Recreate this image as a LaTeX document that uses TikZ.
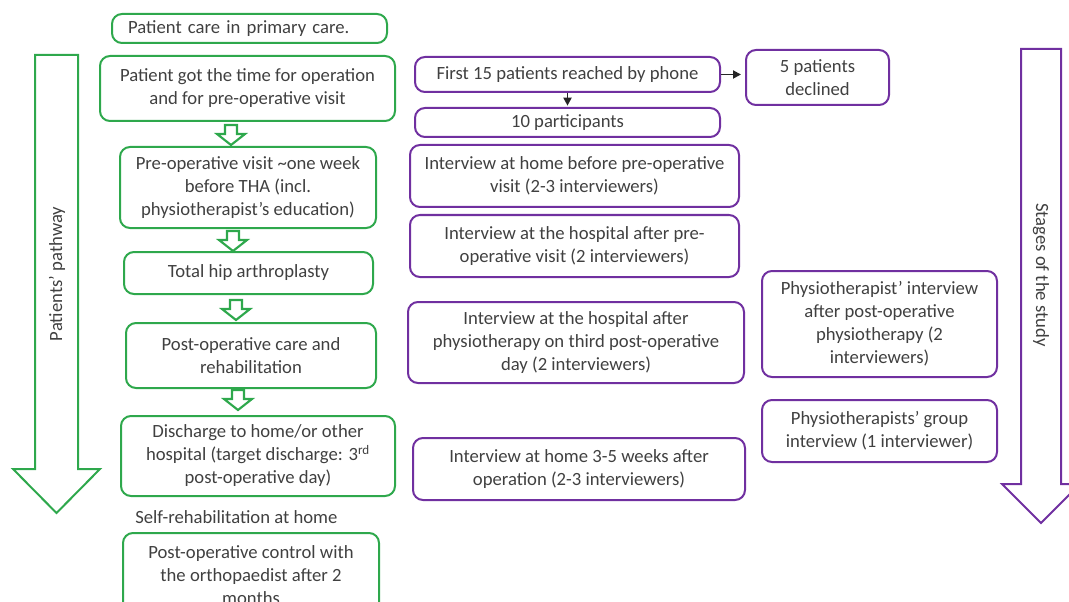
\documentclass[tikz,border=0pt]{standalone}
\usepackage{fontspec}
\setmainfont{Carlito}
\usetikzlibrary{arrows.meta}

\definecolor{pathgreen}{RGB}{46,168,76}
\definecolor{studypurple}{RGB}{112,48,160}
\definecolor{textgrey}{RGB}{64,64,64}

\begin{document}
\begin{tikzpicture}[
                x=0.75pt, y=-0.75pt,
                every node/.style={
                        text=textgrey,
                        align=center,
                        inner sep=0pt,
                        font=\fontsize{14}{17.25}\selectfont
                    },
                boxsize/.style 2 args={minimum width=#1*0.75pt, minimum height=#2*0.75pt},
                green box/.style={draw=pathgreen, line width=1.5pt, rounded corners=7.5pt},
                purple box/.style={draw=studypurple, line width=1.5pt, rounded corners=7.5pt},
                big arrow/.style={line width=1.5pt, line join=miter},
                hollow arrow/.pic={
                        \draw[pathgreen, line width=1.6pt, line join=miter]
                            (-6,0) -- (6,0) -- (6,9) -- (14,9) -- (0,20) -- (-14,9) -- (-6,9) -- cycle;
                    },
                phone arrow/.style={-{Triangle[length=6pt,width=6pt]}, line width=1.4pt, black!85}
            ]

            \clip (0,0) rectangle (1069,602);

            % Patients' pathway
            \draw[big arrow, pathgreen]
                (35,55) -- (78,55) -- (78,469) -- (100,469) -- (56.5,513) -- (13,469) -- (35,469) -- cycle;
            \node[rotate=90] (pathlabel) at (57,274) {Patients’ pathway};

            \node[green box, boxsize={275}{29}, text width=182pt, align=left] (primary) at (249.5,28.5)
                {Patient care in primary care.};
            \node[green box, boxsize={295}{65}] (gottime) at (247.5,88.5)
                {Patient got the time for operation\\and for pre-operative visit};
            \node[green box, boxsize={256}{81}] (previsit) at (248,187.5)
                {Pre-operative visit \textasciitilde one week\\before THA (incl.\\physiotherapist’s education)};
            \node[green box, boxsize={249}{42}] (tha) at (248.5,273)
                {Total hip arthroplasty};
            \node[green box, boxsize={250}{65}] (postcare) at (251,355.5)
                {Post-operative care and\\rehabilitation};
            \node[green box, boxsize={274}{80}] (discharge) at (258,456)
                {Discharge to home/or other\\hospital (target discharge: 3\textsuperscript{rd}\\post-operative day)};
            \node[anchor=west] (selfrehab) at (135,517) {Self-rehabilitation at home};
            \node[green box, boxsize={256}{84}] (control) at (251,575)
                {Post-operative control with\\the orthopaedist after 2\\months};

            \pic at (231,125) {hollow arrow};
            \pic at (233,231) {hollow arrow};
            \pic at (236,300) {hollow arrow};
            \pic at (238,390) {hollow arrow};

            % Stages of the study
            \draw[big arrow, studypurple]
                (1021,49) -- (1061,49) -- (1061,484) -- (1080,484) -- (1041,523) -- (1002,484) -- (1021,484) -- cycle;
            \node[rotate=-90] (studylabel) at (1041,275) {Stages of the study};

            \node[purple box, boxsize={305}{35}] (phone) at (567.5,74.5)
                {First 15 patients reached by phone};
            \node[purple box, boxsize={143}{55}] (declined) at (817.5,77.5)
                {5 patients\\declined};
            \node[purple box, boxsize={305}{29}] (participants) at (567.5,122.5)
                {10 participants};
            \node[purple box, boxsize={329}{62}] (homeint) at (574.5,176)
                {Interview at home before pre-operative\\visit (2-3 interviewers)};
            \node[purple box, boxsize={329}{62}] (hospint) at (574.5,246)
                {Interview at the hospital after pre-\\operative visit (2 interviewers)};
            \node[purple box, boxsize={336}{81}] (thirdday) at (576,342.5)
                {Interview at the hospital after\\physiotherapy on third post-operative\\day (2 interviewers)};
            \node[purple box, boxsize={332}{62}] (weeksint) at (579,469)
                {Interview at home 3-5 weeks after\\operation (2-3 interviewers)};
            \node[purple box, boxsize={235}{106}] (physioint) at (879.5,324)
                {Physiotherapist’ interview\\after post-operative\\physiotherapy (2\\interviewers)};
            \node[purple box, boxsize={235}{62}] (groupint) at (879.5,431)
                {Physiotherapists’ group\\interview (1 interviewer)};

            \draw[phone arrow, shorten >=3pt] (phone.east) -- (phone.east -| declined.west);
            \draw[phone arrow, shorten >=1pt] (phone.south) -- (participants.north);

        \end{tikzpicture}
\end{document}
